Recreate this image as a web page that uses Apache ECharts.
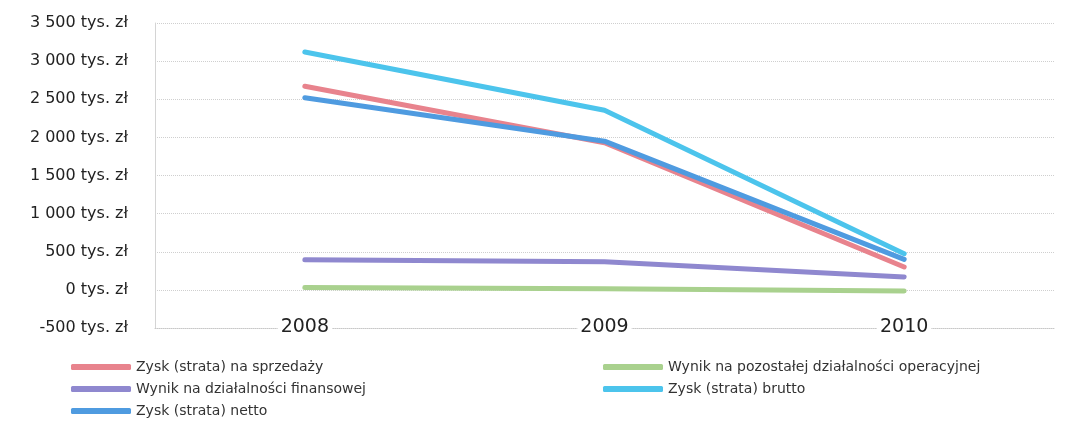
<!DOCTYPE html>
<html>
<head>
<meta charset="utf-8">
<script src="https://cdn.jsdelivr.net/npm/echarts@6/dist/echarts.min.js"></script>
<style>
    html, body { margin: 0; padding: 0; background: #fff; }
    #main { width: 1074px; height: 421px; }
</style>
</head>
<body>
<div id="main"></div>
<script>
// lata i wartości (tys. zł)
var years = ['2008', '2009', '2010'];
var zyskSprzedaz = [2670, 1930, 300];
var wynikPozostala = [30, 15, -15];
var wynikFinansowa = [395, 370, 170];
var zyskBrutto = [3120, 2355, 475];
var zyskNetto = [2520, 1950, 400];

var names = [
    'Zysk (strata) na sprzedaży',
    'Wynik na pozostałej działalności operacyjnej',
    'Wynik na działalności finansowej',
    'Zysk (strata) brutto',
    'Zysk (strata) netto'
];
var colors = ['#e8838d', '#a9d18e', '#8f88cf', '#4cc4ec', '#4f9be0'];

function fmt(v) {
    var s = String(Math.abs(v)).replace(/\B(?=(\d{3})+(?!\d))/g, ' ');
    return (v < 0 ? '-' : '') + s + ' tys. zł';
}

function line(name, data, color) {
    return {
        name: name,
        type: 'line',
        data: data,
        symbol: 'none',
        color: color,
        lineStyle: { width: 5, color: color, cap: 'round', join: 'round' }
    };
}

var myChart = echarts.init(document.getElementById('main'));
var legendText = { fontFamily: 'DejaVu Sans', fontSize: 14, color: '#333' };
var option = {
    animation: false,
    textStyle: { fontFamily: 'DejaVu Sans' },
    grid: { left: 155, right: 20, top: 23, bottom: 93 },
    legend: [{
        orient: 'vertical',
        left: 71,
        top: 360,
        height: 80,
        itemWidth: 60,
        itemHeight: 6,
        itemGap: 8,
        padding: 0,
        icon: 'roundRect',
        textStyle: legendText,
        data: [names[0], names[2], names[4]]
    }, {
        orient: 'vertical',
        left: 603,
        top: 360,
        height: 80,
        itemWidth: 60,
        itemHeight: 6,
        itemGap: 8,
        padding: 0,
        icon: 'roundRect',
        textStyle: legendText,
        data: [names[1], names[3]]
    }],
    xAxis: {
        type: 'category',
        data: years,
        boundaryGap: true,
        axisLine: { show: true, onZero: false, lineStyle: { color: '#c8c8c8', type: 'dotted' } },
        axisTick: { show: false },
        axisLabel: {
            margin: -10,
            fontSize: 19,
            color: '#222',
            backgroundColor: '#fff',
            padding: [0, 3]
        }
    },
    yAxis: {
        type: 'value',
        min: -500,
        max: 3500,
        interval: 500,
        axisLine: { show: true, lineStyle: { color: '#d4d4d4' } },
        axisTick: { show: false },
        axisLabel: {
            margin: 27,
            fontSize: 16,
            color: '#222',
            formatter: fmt
        },
        splitLine: { lineStyle: { color: '#cfcfcf', type: 'dotted' } }
    },
    series: [
        line(names[0], zyskSprzedaz, colors[0]),
        line(names[1], wynikPozostala, colors[1]),
        line(names[2], wynikFinansowa, colors[2]),
        line(names[3], zyskBrutto, colors[3]),
        line(names[4], zyskNetto, colors[4])
    ]
};
myChart.setOption(option);
</script>
</body>
</html>
